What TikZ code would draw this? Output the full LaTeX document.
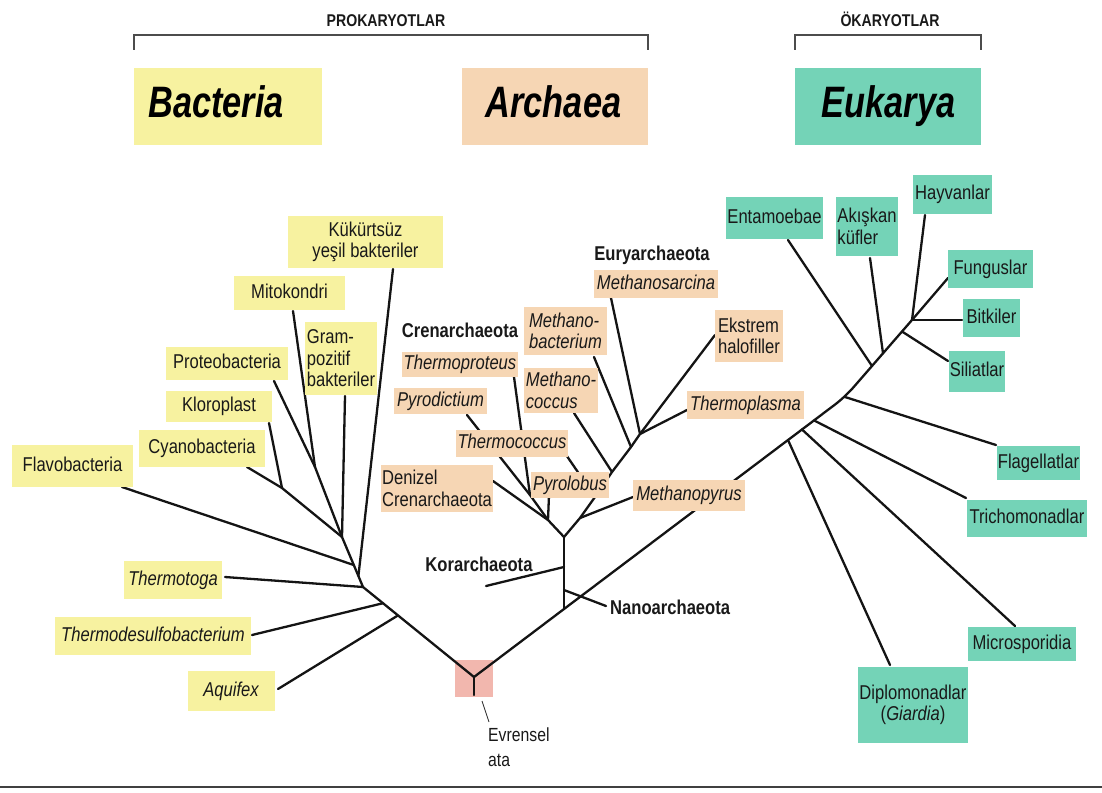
\documentclass[tikz,border=0pt]{standalone}
\usepackage{fontspec}
\setmainfont{Liberation Sans}[FakeStretch=0.83]
\newfontfamily\condfont{Liberation Sans}[FakeStretch=0.78]
\newcommand\lblfont{\fontsize{20}{21.5}\selectfont}
\definecolor{bacfill}{RGB}{247,242,160}
\definecolor{arcfill}{RGB}{246,214,180}
\definecolor{eukfill}{RGB}{116,211,183}
\definecolor{rootfill}{RGB}{242,183,174}
\definecolor{txt}{RGB}{25,25,25}
\tikzset{
  sz/.style 2 args={minimum width=#1pt, minimum height=#2pt},
  bacb/.style={fill=bacfill, font=\lblfont, inner sep=1pt, text=txt},
  bac/.style={bacb, text height=14.5pt, text depth=4.5pt},
  arcb/.style={fill=arcfill, font=\lblfont, inner sep=1pt, text=txt},
  arc/.style={arcb, text height=14.5pt, text depth=4.5pt},
  eukb/.style={fill=eukfill, font=\lblfont, inner sep=1pt, text=txt},
  euk/.style={eukb, text height=14.5pt, text depth=4.5pt},
  it/.style={font=\lblfont\itshape},
  grp/.style={font=\lblfont\bfseries, inner sep=0pt, text=txt},
  hdr/.style={font=\fontsize{17}{20}\selectfont\bfseries, inner sep=0pt, text=txt},
  ttl/.style={font=\condfont\fontsize{44}{48}\selectfont\bfseries\itshape, inner sep=0pt, text=black},
  branch/.style={line width=2.3pt, line join=round, line cap=round, draw=black!92},
  bracket/.style={line width=1.3pt, draw=black!70},
}
\begin{document}
\begin{tikzpicture}[x=1pt,y=-1pt]
\useasboundingbox (0,0) rectangle (1102,792);

% ---------- header ----------
\node[hdr, anchor=base] (prok) at (386,27) {PROKARYOTLAR};
\node[hdr, anchor=base] (euka) at (890,27) {ÖKARYOTLAR};
\coordinate (pb1) at (134,50); \coordinate (pb2) at (648,35); \coordinate (pb3) at (648,50);
\coordinate (eb1) at (795,50); \coordinate (eb2) at (981,35); \coordinate (eb3) at (981,50);
\draw[bracket] (pb1) |- (pb2) -- (pb3);
\draw[bracket] (eb1) |- (eb2) -- (eb3);

\node[fill=bacfill, sz={188}{77}, inner sep=0pt] (bacbox) at (228,106.5) {};
\node[fill=arcfill, sz={186}{77}, inner sep=0pt] (arcbox) at (555,106.5) {};
\node[fill=eukfill, sz={186}{77}, inner sep=0pt] (eukbox) at (888,106.5) {};
\node[ttl, anchor=base] (bactitle) at (216,117) {Bacteria};
\node[ttl, anchor=base] (arctitle) at (553.5,117) {Archaea};
\node[ttl, anchor=base] (euktitle) at (888.5,117) {Eukarya};

% ---------- root ----------
\node[fill=rootfill, sz={38}{37}, inner sep=0pt] (rootbox) at (474,678.5) {};
\coordinate (root) at (474,677);
\coordinate (rootstem) at (474,695);
\coordinate (ld1) at (482,701);
\coordinate (ld2) at (489,722);

% ---------- bacteria coordinates ----------
\coordinate (bQ) at (398,615.4);
\coordinate (bD) at (383,603.2);
\coordinate (bT) at (363,587);
\coordinate (bK) at (358.4,576);
\coordinate (bF) at (353.8,565);
\coordinate (bA) at (342,537);
\coordinate (bC) at (282,488);
\coordinate (bP) at (315,467);
\coordinate (eAquifex) at (278,689);
\coordinate (eTdesulfo) at (252,635);
\coordinate (eTtoga) at (225,577);
\coordinate (eFlavo) at (122,487);
\coordinate (eCyano) at (247,467);
\coordinate (eKloro) at (269,423);
\coordinate (eProteo) at (274,381);
\coordinate (eMito) at (293,311);
\coordinate (eGram) at (345,396);
\coordinate (eKuk) at (393,269);

% ---------- archaea coordinates ----------
\coordinate (aTrunk) at (564,609);
\coordinate (aNano) at (564,590);
\coordinate (aKor) at (564,567);
\coordinate (aCrown) at (564,537);
\coordinate (eNano) at (606,606);
\coordinate (eKor) at (486,586);
\coordinate (cH) at (548,520);
\coordinate (cJ) at (530,495);
\coordinate (eDenizel) at (493,481);
\coordinate (ePyrod) at (467,415);
\coordinate (eTprot) at (514,377);
\coordinate (ePyrol) at (549,495);
\coordinate (eMP) at (580,518);
\coordinate (eTC) at (595,497);
\coordinate (eMC) at (612,472);
\coordinate (eMB) at (631,447);
\coordinate (eE1) at (640,434);
\coordinate (eMpyrus) at (633,497);
\coordinate (eTcoc) at (560,446);
\coordinate (eMcoc) at (574,413);
\coordinate (eMbact) at (594,357);
\coordinate (eMsarc) at (611,298);
\coordinate (eEkstrem) at (715,335);
\coordinate (eTplasma) at (687,410);

% ---------- eukarya coordinates ----------
\coordinate (k1) at (788,440);
\coordinate (k2) at (802,429.5);
\coordinate (k3) at (814,420.4);
\coordinate (k4) at (845,397);
\coordinate (k5) at (872,366);
\coordinate (k6) at (883,353.3);
\coordinate (k7) at (902,331.5);
\coordinate (k8) at (912,320);
\coordinate (eDiplo) at (890,665);
\coordinate (eMicro) at (1015,626);
\coordinate (eTricho) at (966,498);
\coordinate (eFlag) at (996,445);
\coordinate (eEntam) at (788,240);
\coordinate (eAkis) at (870,258);
\coordinate (eSili) at (948,361);
\coordinate (eBitki) at (962,320);
\coordinate (eHayv) at (925,215);
\coordinate (eFung) at (948,278);

% ---------- branches ----------
\draw[branch] (rootstem) -- (root);
\draw[branch] (root) -- (bQ) -- (bD) -- (bT) -- (bK) -- (bF) -- (bA);
\draw[branch] (eAquifex) -- (bQ);
\draw[branch] (eTdesulfo) -- (bD);
\draw[branch] (eTtoga) -- (bT);
\draw[branch] (eFlavo) -- (bF);
\draw[branch] (eKuk) -- (bK);
\draw[branch] (eGram) -- (bA);
\draw[branch] (eCyano) -- (bC) -- (bA);
\draw[branch] (eKloro) -- (bC);
\draw[branch] (eProteo) -- (bP) -- (bA);
\draw[branch] (eMito) -- (bP);

\draw[branch, rounded corners=12pt] (root) -- (aTrunk) -- (k1) -- (k2) -- (k3) -- (k4) -- (k5) -- (k6) -- (k7) -- (k8) -- (eFung);
\draw[branch] (aTrunk) -- (aNano) -- (aKor) -- (aCrown);
\draw[branch] (aKor) -- (eKor);
\draw[branch] (aNano) -- (eNano);
\draw[branch] (eDenizel) -- (cH) -- (aCrown);
\draw[branch] (ePyrod) -- (cJ) -- (cH);
\draw[branch] (eTprot) -- (cJ);
\draw[branch] (ePyrol) -- (cH);
\draw[branch] (eE1) -- (eMB) -- (eMC) -- (eTC) -- (eMP) -- (aCrown);
\draw[branch] (eMpyrus) -- (eMP);
\draw[branch] (eTcoc) -- (eTC);
\draw[branch] (eMcoc) -- (eMC);
\draw[branch] (eMbact) -- (eMB);
\draw[branch] (eMsarc) -- (eE1);
\draw[branch] (eEkstrem) -- (eE1);
\draw[branch] (eTplasma) -- (eE1);

\draw[branch] (eDiplo) -- (k1);
\draw[branch] (eMicro) -- (k2);
\draw[branch] (eTricho) -- (k3);
\draw[branch] (eFlag) -- (k4);
\draw[branch] (eEntam) -- (k5);
\draw[branch] (eAkis) -- (k6);
\draw[branch] (eSili) -- (k7);
\draw[branch] (eBitki) -- (k8);
\draw[branch] (eHayv) -- (k8);

\draw[line width=0.9pt, draw=black!80] (ld1) -- (ld2);
\node[anchor=north west, inner sep=0pt, align=left, font=\fontsize{19}{25}\selectfont, text=txt] (evrensel) at (488,728) {Evrensel\\ata};

% ---------- bacteria labels ----------
\node[bacb, sz={155}{52}, align=center] (kuk) at (365.5,242) {Kükürtsüz\\yeşil bakteriler};
\node[bac, sz={111}{34}] (mito) at (289.5,293) {Mitokondri};
\node[bacb, sz={72}{73}, align=left] (gram) at (341,358.5) {Gram-\\pozitif\\bakteriler};
\node[bac, sz={122}{33}] (proteo) at (227,363.5) {Proteobacteria};
\node[bac, sz={106}{31}] (kloro) at (219,406.5) {Kloroplast};
\node[bac, sz={126}{37}] (cyano) at (202,448.5) {Cyanobacteria};
\node[bac, sz={121}{42}] (flavo) at (72.5,466) {Flavobacteria};
\node[bac, it, sz={98}{38}] (ttoga) at (173,580) {Thermotoga};
\node[bac, it, sz={196}{38}] (tdesulfo) at (153,636) {Thermodesulfobacterium};
\node[bac, it, sz={87}{40}] (aquifex) at (231,691) {Aquifex};

% ---------- archaea labels ----------
\node[grp, anchor=base] (eury) at (652,260) {Euryarchaeota};
\node[grp, anchor=base] (cren) at (460,337) {Crenarchaeota};
\node[grp, anchor=base] (kor) at (479,571) {Korarchaeota};
\node[grp, anchor=base west] (nano) at (610,614) {Nanoarchaeota};
\node[arc, it, sz={124}{28}] (msarc) at (656,284) {Methanosarcina};
\node[arcb, it, sz={83}{48}, align=left] (mbact) at (565.5,331) {Methano-\\bacterium};
\node[arcb, sz={68}{52}, align=left] (ekstrem) at (749,336) {Ekstrem\\halofiller};
\node[arc, it, sz={116}{25}] (tprot) at (460,364) {Thermoproteus};
\node[arcb, it, sz={74}{45}, align=left] (mcoc) at (561,390.5) {Methano-\\coccus};
\node[arc, it, sz={93}{26}] (pyrod) at (440.5,401) {Pyrodictium};
\node[arc, it, sz={117}{28}] (tplasma) at (745.5,405) {Thermoplasma};
\node[arc, it, sz={112}{27}] (tcoc) at (512,443.5) {Thermococcus};
\node[arcb, sz={110}{47}, align=left] (denizel) at (437,488.5) {Denizel\\Crenarchaeota};
\node[arc, it, sz={78}{26}] (pyrol) at (570,485) {Pyrolobus};
\node[arc, it, sz={112}{31}] (mpyrus) at (689,495.5) {Methanopyrus};

% ---------- eukarya labels ----------
\node[euk, sz={97}{42}] (entam) at (774.5,218) {Entamoebae};
\node[eukb, sz={62}{59}, align=left] (akis) at (867,226.5) {Akışkan\\küfler};
\node[euk, sz={79}{39}] (hayv) at (952.5,194.5) {Hayvanlar};
\node[euk, sz={85}{38}] (fung) at (990.5,269) {Funguslar};
\node[euk, sz={57}{38}] (bitki) at (991.5,318) {Bitkiler};
\node[euk, sz={56}{41}] (sili) at (977,371) {Siliatlar};
\node[euk, sz={83}{34}] (flag) at (1038.5,463) {Flagellatlar};
\node[euk, sz={120}{37}] (tricho) at (1027,518.5) {Trichomonadlar};
\node[euk, sz={108}{34}] (micro) at (1022,644) {Microsporidia};
\node[eukb, sz={110}{76}, align=center] (diplo) at (913,705) {Diplomonadlar\\(\textit{Giardia})};

% ---------- bottom rule ----------
\coordinate (bl) at (0,787);
\coordinate (brr) at (1102,787);
\draw[line width=2pt, draw=black!75] (bl) -- (brr);
\end{tikzpicture}
\end{document}
